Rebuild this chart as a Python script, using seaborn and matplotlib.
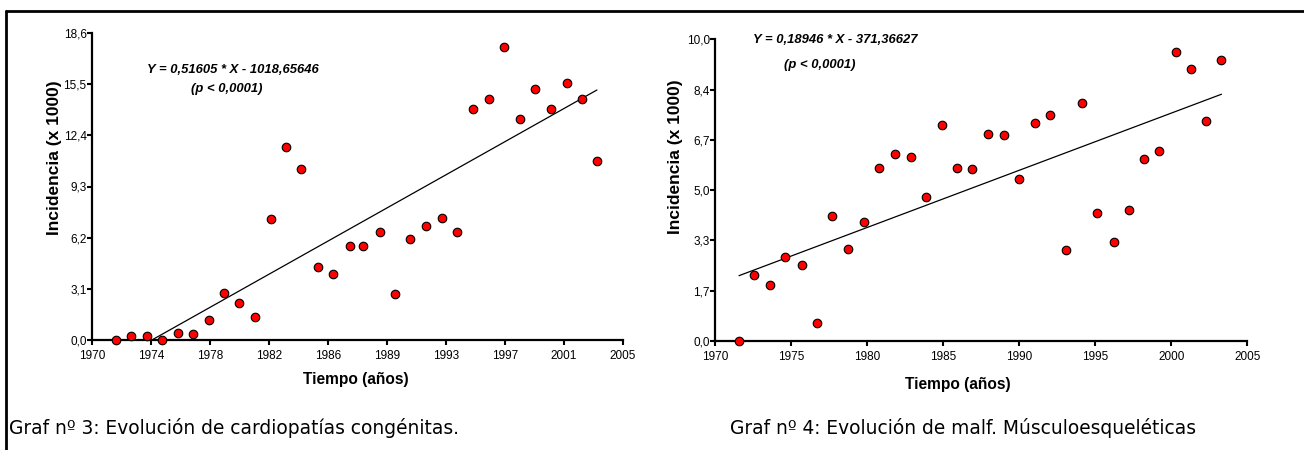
import numpy as np
import pandas as pd
import matplotlib
matplotlib.use("Agg")
import matplotlib.pyplot as plt
import seaborn as sns
from matplotlib.lines import Line2D

# ---------------- data ----------------
years_card = [1971.56, 1972.55, 1973.6, 1974.6, 1975.65, 1976.64, 1977.7, 1978.7,
              1979.7, 1980.75, 1981.8, 1982.8, 1983.8, 1984.9, 1985.9, 1987.0,
              1987.9, 1989.0, 1990.0, 1991.0, 1992.0, 1993.1, 1994.1, 1995.15,
              1996.2, 1997.2, 1998.2, 1999.2, 2000.3, 2001.3, 2002.3, 2003.3]
inc_card = [0.0, 0.24, 0.24, 0.0, 0.44, 0.36, 1.21, 2.83,
            2.22, 1.41, 7.31, 11.72, 10.34, 4.44, 4.0, 5.7,
            5.7, 6.56, 2.79, 6.12, 6.93, 7.37, 6.56, 14.02,
            14.6, 17.78, 13.37, 15.19, 14.02, 15.58, 14.6, 10.85]
slope_card, intercept_card = 0.51605, -1018.65646

years_musc = [1971.56, 1972.57, 1973.6, 1974.6, 1975.7, 1976.67, 1977.7, 1978.7,
              1979.76, 1980.75, 1981.8, 1982.9, 1983.84, 1984.9, 1985.9, 1986.9,
              1987.96, 1989.0, 1989.98, 1991.05, 1992.0, 1993.1, 1994.15, 1995.13,
              1996.2, 1997.2, 1998.2, 1999.2, 2000.3, 2001.3, 2002.3, 2003.3]
inc_musc = [0.0, 2.19, 1.87, 2.78, 2.51, 0.6, 4.13, 3.06,
            3.93, 5.72, 6.2, 6.09, 4.78, 7.15, 5.72, 5.69,
            6.87, 6.83, 5.36, 7.23, 7.5, 3.02, 7.9, 4.24,
            3.29, 4.33, 6.03, 6.31, 9.57, 9.0, 7.3, 9.32]
slope_musc, intercept_musc = 0.18946, -371.36627

xtick_labels_card = ["1970", "1974", "1978", "1982", "1986", "1989", "1993", "1997", "2001", "2005"]
ytick_labels_card = ["0,0", "3,1", "6,2", "9,3", "12,4", "15,5", "18,6"]
xtick_labels_musc = ["1970", "1975", "1980", "1985", "1990", "1995", "2000", "2005"]
ytick_labels_musc = ["0,0", "1,7", "3,3", "5,0", "6,7", "8,4", "10,0"]

eq_card = "Y = 0,51605 * X - 1018,65646"
eq_musc = "Y = 0,18946 * X - 371,36627"
p_text = "(p < 0,0001)"
ylabel = "Incidencia (x 1000)"
xlabel = "Tiempo (años)"
caption_card = "Graf nº 3: Evolución de cardiopatías congénitas."
caption_musc = "Graf nº 4: Evolución de malf. Músculoesqueléticas"

# ---------------- style ----------------
sns.set_style("ticks")
plt.rcParams['font.family'] = ['Liberation Sans', 'DejaVu Sans']
for k in ("text.color", "axes.labelcolor", "xtick.color", "ytick.color", "axes.edgecolor"):
    plt.rcParams[k] = "black"

W, H = 1304, 450
fig = plt.figure(figsize=(W / 100, H / 100), dpi=100)


def px_axes(x0, y_top, x1, y_bot):
    return fig.add_axes([x0 / W, 1 - y_bot / H, (x1 - x0) / W, (y_bot - y_top) / H])


def draw_panel(ax, xs, ys, slope, intercept, xlim, ylim, xticks, xlabels, yticks, ylabels,
               eq, eq_pos, p_pos, ylab_pos, xlab_pos):
    df = pd.DataFrame({"x": xs, "y": ys})
    xl = np.array([min(xs), max(xs)])
    dfl = pd.DataFrame({"x": xl, "y": slope * xl + intercept})
    sns.lineplot(data=dfl, x="x", y="y", ax=ax, color="black", linewidth=0.9, zorder=2)
    sns.scatterplot(data=df, x="x", y="y", ax=ax, color="#ff0000", edgecolor="black",
                    linewidth=0.8, s=38, zorder=5, clip_on=False)
    ax.set_xlim(*xlim)
    ax.set_ylim(*ylim)
    ax.set_xticks(xticks)
    ax.set_xticklabels(xlabels)
    ax.set_yticks(yticks)
    ax.set_yticklabels(ylabels)
    sns.despine(ax=ax)
    for s in ("left", "bottom"):
        ax.spines[s].set_linewidth(1.6)
        ax.spines[s].set_color("black")
    ax.tick_params(axis="both", length=3.4, width=1.5, labelsize=8.5, colors="black")
    ax.tick_params(axis="x", pad=4)
    ax.tick_params(axis="y", pad=0.5)
    ax.set_xlabel(xlabel, fontsize=11.2, fontweight="bold")
    ax.set_ylabel(ylabel, fontsize=12.5, fontweight="bold")
    ax.yaxis.set_label_coords(*ylab_pos)
    ax.xaxis.set_label_coords(*xlab_pos)
    ax.text(eq_pos[0], eq_pos[1], eq, transform=ax.transAxes, ha="center", va="center",
            fontsize=9.4, fontweight="bold", style="italic")
    ax.text(p_pos[0], p_pos[1], p_text, transform=ax.transAxes, ha="center", va="center",
            fontsize=9.4, fontweight="bold", style="italic")


# left panel: x 92..622.7, y 33..340
ax1 = px_axes(92, 33, 622.7, 340)
draw_panel(ax1, years_card, inc_card, slope_card, intercept_card,
           (1970, 2005), (0, 18.6), np.linspace(1970, 2005, 10), xtick_labels_card,
           np.linspace(0, 18.6, 7), ytick_labels_card,
           eq_card, ((233 - 92) / 530.7, 1 - (70 - 33) / 307),
           ((227 - 92) / 530.7, 1 - (89 - 33) / 307),
           ((62 - 92) / 530.7, 1 - (158 - 33) / 307), (0.498, -(372 - 340) / 307))

# right panel: x 715.3..1247.3, y 39.3..341
ax2 = px_axes(715.3, 39.3, 1247.3, 341)
draw_panel(ax2, years_musc, inc_musc, slope_musc, intercept_musc,
           (1970, 2005), (0, 10.0), np.linspace(1970, 2005, 8), xtick_labels_musc,
           np.linspace(0, 10.0, 7), ytick_labels_musc,
           eq_musc, ((835 - 715.3) / 532, 1 - (40 - 39.3) / 301.7),
           ((820 - 715.3) / 532, 1 - (65 - 39.3) / 301.7),
           ((683 - 715.3) / 532, 1 - (156.5 - 39.3) / 301.7),
           ((958.3 - 715.3) / 532, -(376.7 - 341) / 301.7))

# captions
fig.text(9 / W, 1 - 428 / H, caption_card, fontsize=13.4, family="DejaVu Sans",
         ha="left", va="center", color="black")
fig.text(730 / W, 1 - 428 / H, caption_musc, fontsize=13.4, family="DejaVu Sans",
         ha="left", va="center", color="black")

# frame
fig.add_artist(Line2D([6 / W, 6 / W], [0, 1 - 11 / H], transform=fig.transFigure,
                      color="black", linewidth=2))
fig.add_artist(Line2D([6 / W, 1], [1 - 11 / H, 1 - 11 / H], transform=fig.transFigure,
                      color="black", linewidth=2))

fig.savefig("out.png", dpi=100)
